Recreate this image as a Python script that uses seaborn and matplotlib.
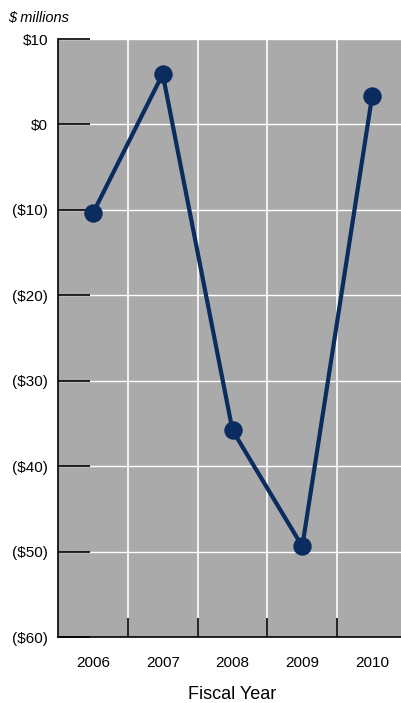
import pandas as pd
import seaborn as sns
import matplotlib.pyplot as plt
from matplotlib.ticker import FixedLocator

years = ['2006', '2007', '2008', '2009', '2010']
income = [-10.4, 5.9, -35.8, -49.4, 3.3]
y_ticks = [10, 0, -10, -20, -30, -40, -50, -60]
y_labels = ['$10', '$0', '($10)', '($20)', '($30)', '($40)', '($50)', '($60)']

df = pd.DataFrame({'Year': years, 'Income': income})

sns.set_theme(style='white')
plt.rcParams['font.family'] = ['Liberation Sans', 'DejaVu Sans']

fig = plt.figure(figsize=(4.02, 7.03), dpi=100)
ax = fig.add_axes([58 / 402, 66 / 703, 349 / 402, 598 / 703])
ax.set_facecolor('#a9aaa9')

sns.pointplot(data=df, x='Year', y='Income', color='#0a2c5f',
              markersize=11, linewidth=3, ax=ax, zorder=5,
              markeredgecolor='#0a2c5f')

ax.set_xlim(-0.5, 4.5)
ax.set_ylim(-60, 10)
ax.set_yticks(y_ticks)
ax.set_yticklabels(y_labels, fontsize=11)
ax.tick_params(axis='y', left=True, direction='in', length=23, width=1.2,
               color='black', pad=7, labelcolor='black')
ax.tick_params(axis='x', which='major', bottom=False, length=0, pad=14,
               labelsize=11, labelcolor='black')
ax.xaxis.set_minor_locator(FixedLocator([0.5, 1.5, 2.5, 3.5]))
ax.tick_params(axis='x', which='minor', bottom=True, direction='in',
               length=13.5, width=1.2, color='black')
ax.grid(axis='y', color='white', linewidth=1)
ax.grid(axis='x', which='minor', color='white', linewidth=1.2)
ax.grid(axis='x', which='major', visible=False)
ax.set_axisbelow(True)

for side in ['top', 'right']:
    ax.spines[side].set_visible(False)
for side in ['left', 'bottom']:
    ax.spines[side].set_color('black')
    ax.spines[side].set_linewidth(1.2)

ax.set_xlabel('Fiscal Year', fontsize=13, labelpad=11, color='black')
ax.set_ylabel('')
fig.text(8 / 402, 1 - 18 / 703, '$ millions', fontsize=10.5, style='italic',
         va='center', color='black')

fig.savefig('out.png', dpi=100)
